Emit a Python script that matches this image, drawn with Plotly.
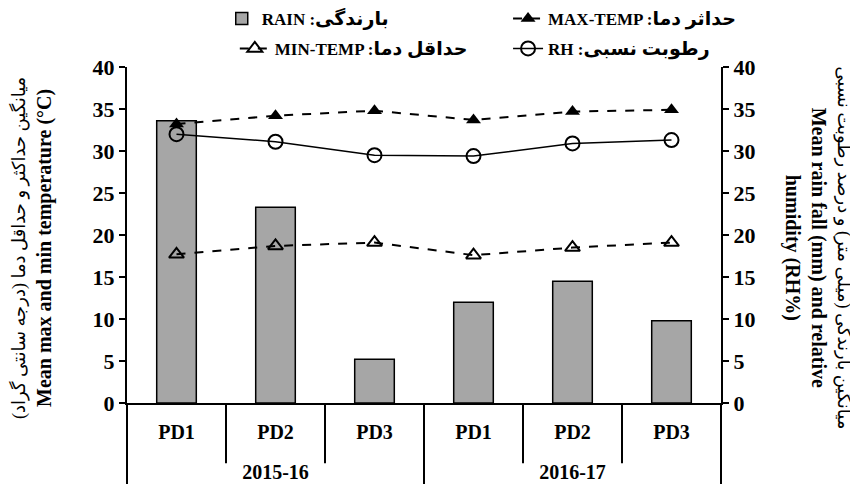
import plotly.graph_objects as go

years = ["2015-16", "2015-16", "2015-16", "2016-17", "2016-17", "2016-17"]
dates = ["PD1", "PD2", "PD3", "PD1", "PD2", "PD3"]
rain = [33.6, 23.3, 5.2, 12.0, 14.5, 9.8]
max_temp = [33.2, 34.2, 34.8, 33.7, 34.7, 34.9]
min_temp = [17.7, 18.7, 19.1, 17.6, 18.5, 19.1]
rh = [32.0, 31.1, 29.5, 29.4, 30.9, 31.3]
y_ticks = [0, 5, 10, 15, 20, 25, 30, 35, 40]

FONT = "Liberation Serif, DejaVu Sans, serif"
# leading line break lowers the outer (year) labels like in the reference
x = [["<br>" + yr for yr in years], dates]


def leg_name(en, fa):
    return f"<b>{en} :<span style='font-size:19px'>{fa}</span></b>"


fig = go.Figure()
fig.add_trace(go.Bar(
    x=x, y=rain, name=leg_name("RAIN", "بارندگی"), width=0.4,
    marker=dict(color="#a6a6a6", line=dict(color="black", width=1.5)),
    legend="legend", yaxis="y"))
fig.add_trace(go.Scatter(
    x=x, y=max_temp, name=leg_name("MAX-TEMP", "حداثر دما"), mode="lines+markers",
    line=dict(color="black", width=2, dash="dash"),
    marker=dict(symbol="triangle-up", size=13, color="black"),
    legend="legend2", yaxis="y"))
fig.add_trace(go.Scatter(
    x=x, y=min_temp, name=leg_name("MIN-TEMP", "حداقل دما"), mode="lines+markers",
    line=dict(color="black", width=2, dash="dash"),
    marker=dict(symbol="triangle-up-open", size=13, color="black", line=dict(width=2)),
    legend="legend3", yaxis="y"))
fig.add_trace(go.Scatter(
    x=x, y=rh, name=leg_name("RH", "رطوبت نسبی"), mode="lines+markers",
    line=dict(color="black", width=1.5),
    marker=dict(symbol="circle-open", size=14, color="black", line=dict(width=2)),
    legend="legend4", yaxis="y2"))

# inner category separators below the axis
for b in [0.5, 1.5, 3.5, 4.5]:
    fig.add_shape(type="line", xref="x", yref="paper", x0=b, x1=b, y0=0, y1=-0.179,
                  line=dict(color="black", width=2))

axis_common = dict(range=[0, 40], tickvals=y_ticks, ticks="outside", ticklen=6, tickwidth=2,
                   tickcolor="black", showline=True, linewidth=2, linecolor="black",
                   showgrid=False, zeroline=False, automargin=False,
                   tickfont=dict(family=FONT, size=22, color="black", weight="bold"))

leg_common = dict(orientation="h", xanchor="left", yanchor="middle",
                  bgcolor="rgba(0,0,0,0)", font=dict(family=FONT, size=17, color="black"))

# page body has an 8px default margin, so the figure is 850x478 inside the 858x486 window
fig.update_layout(
    width=850, height=478,
    margin=dict(l=119, r=137, t=59, b=83, autoexpand=False),
    plot_bgcolor="white", paper_bgcolor="white",
    font=dict(family=FONT, color="black"),
    barmode="overlay",
    xaxis=dict(type="multicategory", showline=True, linewidth=2, linecolor="black",
               ticks="outside", ticklen=8, tickcolor="rgba(0,0,0,0)", ticklabelstandoff=10,
               showdividers=True, dividercolor="black", dividerwidth=2,
               tickfont=dict(family=FONT, size=20, color="black", weight="bold"),
               showgrid=False, zeroline=False, range=[-0.5, 5.5], automargin=False),
    yaxis=dict(**axis_common),
    yaxis2=dict(**axis_common, overlaying="y", side="right", anchor="x"),
    legend=dict(**leg_common, x=0.1595, y=1.143),
    legend2=dict(**leg_common, x=0.6415, y=1.143),
    legend3=dict(**leg_common, x=0.1815, y=1.054),
    legend4=dict(**leg_common, x=0.6415, y=1.054),
    showlegend=True,
    annotations=[
        dict(xref="paper", yref="paper", x=-0.160, y=0.461, xanchor="center", yanchor="middle",
             textangle=-90, showarrow=False,
             text="<span style='font-size:18px'>میانگین حداکثر و حداقل دما (درجه سانتی گراد)</span><br>"
                  "<b>Mean max and min temperature (°C)</b>",
             font=dict(family=FONT, size=20, color="black")),
        dict(xref="paper", yref="paper", x=1.163, y=0.461, xanchor="center", yanchor="middle",
             textangle=90, showarrow=False,
             text="<span style='font-size:18px'>میانگین بارندگی (میلی متر) و درصد رطوبت نسبی</span><br>"
                  "<b>Mean rain fall (mm) and relative</b><br><b>humidity (RH%)</b>",
             font=dict(family=FONT, size=20, color="black")),
    ],
)

fig.write_html("out.html")
